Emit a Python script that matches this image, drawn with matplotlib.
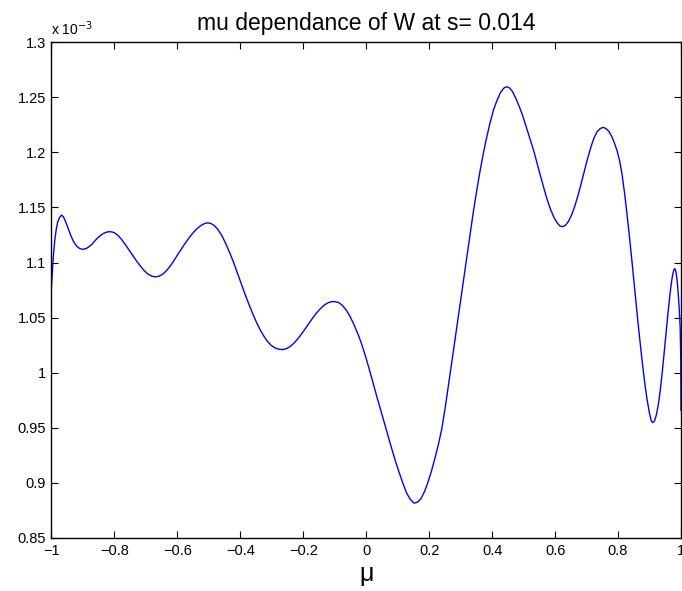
import matplotlib
matplotlib.use("Agg")
import matplotlib.pyplot as plt
from matplotlib.ticker import FuncFormatter, MultipleLocator

plt.rcParams['font.family'] = ['Liberation Sans', 'DejaVu Sans']

# mu values and W (in units of 1e-3) along the curve
mu = [-1.000, -0.997, -0.994, -0.990, -0.985, -0.980, -0.974, -0.968, -0.962,
      -0.955, -0.947, -0.938, -0.929, -0.920, -0.910, -0.900, -0.890, -0.880,
      -0.870, -0.860, -0.848, -0.836, -0.824, -0.813, -0.802, -0.790, -0.778,
      -0.766, -0.754, -0.742, -0.730, -0.718, -0.706, -0.694, -0.682, -0.670,
      -0.658, -0.646, -0.634, -0.622, -0.610, -0.598, -0.586, -0.574, -0.562,
      -0.550, -0.538, -0.526, -0.514, -0.505, -0.494, -0.482, -0.470, -0.458,
      -0.446, -0.434, -0.422, -0.410, -0.398, -0.386, -0.374, -0.362, -0.350,
      -0.338, -0.326, -0.314, -0.302, -0.290, -0.278, -0.266, -0.254, -0.242,
      -0.230, -0.218, -0.206, -0.194, -0.182, -0.170, -0.158, -0.146, -0.134,
      -0.122, -0.110, -0.100, -0.088, -0.076, -0.064, -0.052, -0.040, -0.028,
      -0.016, -0.004, 0.008, 0.020, 0.032, 0.044, 0.056, 0.068, 0.080, 0.092,
      0.104, 0.116, 0.128, 0.140, 0.152, 0.163, 0.174, 0.185, 0.196, 0.207,
      0.218, 0.229, 0.240, 0.251, 0.262, 0.273, 0.284, 0.295, 0.306, 0.317,
      0.328, 0.339, 0.350, 0.361, 0.372, 0.383, 0.394, 0.405, 0.416, 0.427,
      0.438, 0.446, 0.455, 0.465, 0.476, 0.487, 0.498, 0.509, 0.520, 0.531,
      0.542, 0.553, 0.564, 0.575, 0.586, 0.597, 0.608, 0.616, 0.624, 0.633,
      0.643, 0.653, 0.663, 0.673, 0.683, 0.693, 0.703, 0.713, 0.723, 0.733,
      0.743, 0.753, 0.762, 0.771, 0.780, 0.789, 0.797, 0.805, 0.813, 0.821,
      0.829, 0.837, 0.845, 0.853, 0.861, 0.869, 0.877, 0.885, 0.892, 0.899,
      0.905, 0.910, 0.916, 0.922, 0.928, 0.934, 0.940, 0.946, 0.952, 0.958,
      0.964, 0.969, 0.973, 0.977, 0.980, 0.983, 0.986, 0.989, 0.992, 0.995,
      0.9975, 0.9995, 1.000]
W_e3 = [1.078, 1.093, 1.106, 1.119, 1.130, 1.137, 1.141, 1.143, 1.1415,
        1.137, 1.131, 1.124, 1.1185, 1.1148, 1.1126, 1.112, 1.1126, 1.1145,
        1.117, 1.1204, 1.1237, 1.1262, 1.1277, 1.128, 1.1273, 1.125, 1.1212,
        1.1165, 1.1115, 1.1065, 1.1015, 1.097, 1.0928, 1.0896, 1.0877, 1.087,
        1.0876, 1.0895, 1.0928, 1.097, 1.1022, 1.1076, 1.1128, 1.118, 1.1228,
        1.127, 1.1306, 1.1335, 1.1353, 1.136, 1.1355, 1.1334, 1.1295, 1.124,
        1.117, 1.109, 1.1005, 1.091, 1.0815, 1.072, 1.063, 1.0545, 1.0465,
        1.0395, 1.0335, 1.0285, 1.0248, 1.0225, 1.0213, 1.021, 1.0218, 1.0237,
        1.0267, 1.0305, 1.035, 1.0398, 1.0448, 1.0497, 1.0542, 1.058, 1.0612,
        1.0634, 1.0645, 1.0645, 1.0637, 1.0612, 1.057, 1.0513, 1.0443, 1.0363,
        1.0272, 1.0165, 1.0048, 0.9926, 0.980, 0.968, 0.956, 0.944, 0.932, 0.9205,
        0.910, 0.900, 0.891, 0.885, 0.8816, 0.8825, 0.8858, 0.892, 0.9005, 0.9105,
        0.922, 0.9345, 0.949, 0.9685, 0.990, 1.012, 1.034, 1.0565, 1.078, 1.100,
        1.1215, 1.1435, 1.1635, 1.182, 1.199, 1.214, 1.2275, 1.239, 1.2475, 1.2545,
        1.2585, 1.2595, 1.2585, 1.255, 1.2485, 1.241, 1.2325, 1.2225, 1.2125, 1.2025,
        1.191, 1.1795, 1.1678, 1.157, 1.148, 1.1405, 1.1355, 1.133, 1.1325, 1.1338,
        1.1375, 1.1435, 1.1515, 1.161, 1.1718, 1.183, 1.194, 1.204, 1.2125, 1.2185,
        1.2215, 1.2227, 1.2215, 1.219, 1.2145, 1.208, 1.2015, 1.1925, 1.1795, 1.1625,
        1.1425, 1.1215, 1.099, 1.0755, 1.0525, 1.0305, 1.0095, 0.9905, 0.976, 0.9647,
        0.9568, 0.9547, 0.9563, 0.962, 0.971, 0.9835, 0.999, 1.016, 1.034, 1.052,
        1.0685, 1.0805, 1.088, 1.093, 1.0945, 1.093, 1.088, 1.080, 1.069, 1.055,
        1.040, 1.010, 0.966]

W = [v * 1e-3 for v in W_e3]

fig = plt.figure(figsize=(6.82, 5.91), dpi=100)
ax = fig.add_axes([0.0755, 0.0897, 0.923, 0.839])
ax.plot(mu, W, color=(0, 0, 1), linewidth=1.0)

ax.set_xlim(-1, 1)
ax.set_ylim(0.85e-3, 1.3e-3)
ax.xaxis.set_major_locator(MultipleLocator(0.2))
ax.yaxis.set_major_locator(MultipleLocator(0.05e-3))
ax.xaxis.set_major_formatter(FuncFormatter(lambda x, p: ('%g' % round(x, 4)).replace('-', '\u2212')))
ax.yaxis.set_major_formatter(FuncFormatter(lambda y, p: '%g' % round(y * 1e3, 4)))

ax.tick_params(direction='in', length=5, width=0.8, top=True, right=True,
               labelsize=10.5, pad=4, colors='black')
for s in ax.spines.values():
    s.set_linewidth(1.0)

ax.text(0.0, 1.008, r'x 10$^{-3}$', transform=ax.transAxes, fontsize=10,
        ha='left', va='bottom')
ax.set_title('mu dependance of W at s= 0.014', fontsize=16.5, pad=9)
ax.set_xlabel('\u03bc', fontsize=18, labelpad=3)

fig.savefig('out.png', dpi=100)
